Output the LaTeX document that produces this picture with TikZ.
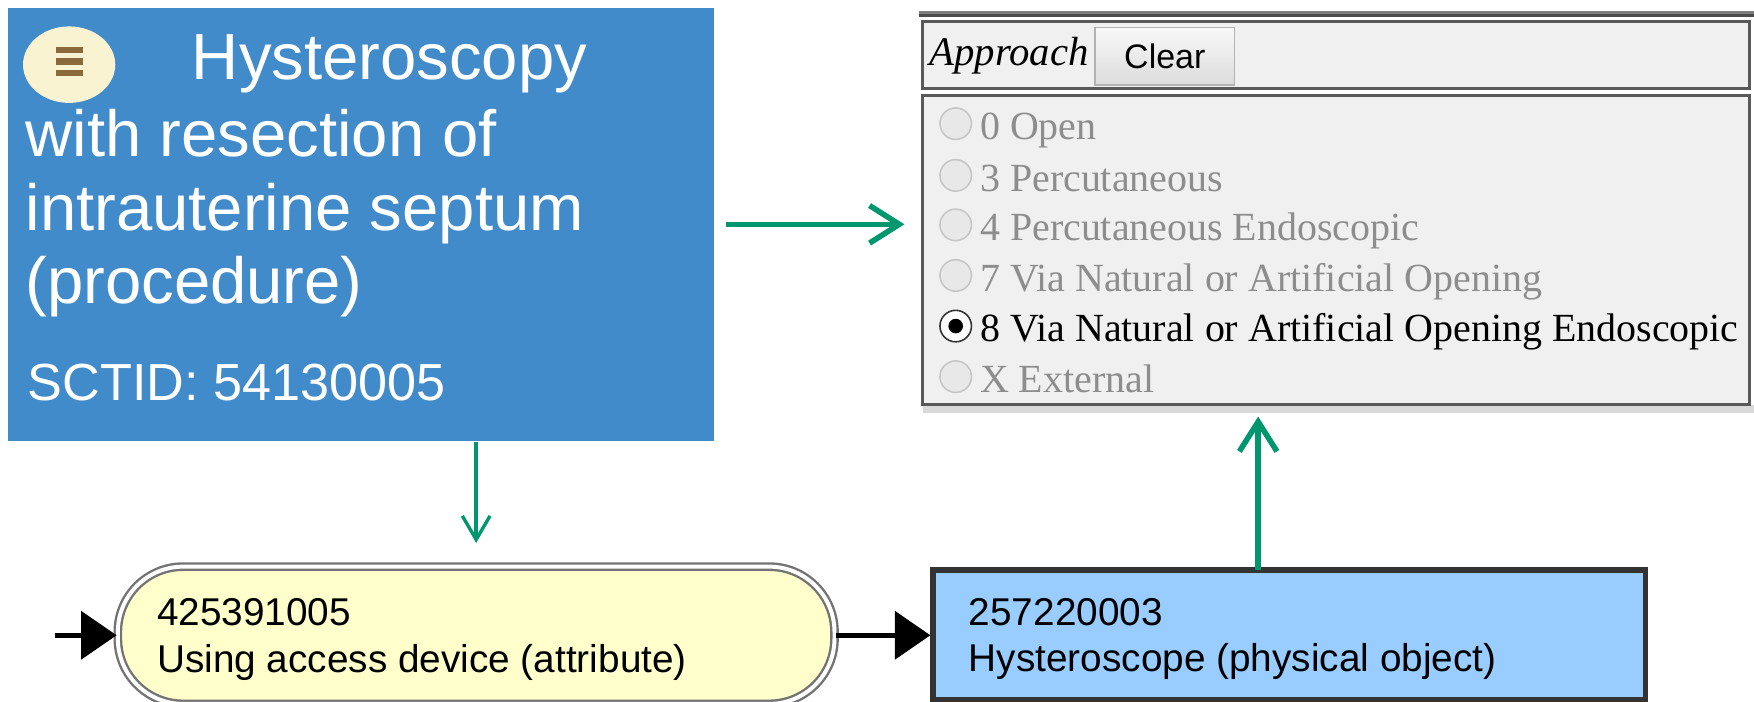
\documentclass[tikz,border=0pt]{standalone}
\usepackage{fontspec}
\setmainfont{Liberation Serif}
\setsansfont{Liberation Sans}
\usetikzlibrary{arrows.meta,shapes.geometric}

\definecolor{conceptblue}{RGB}{66,139,202}
\definecolor{menucream}{RGB}{250,243,210}
\definecolor{menubrown}{RGB}{138,106,58}
\definecolor{linkgreen}{RGB}{0,150,110}
\definecolor{formgray}{RGB}{240,240,240}
\definecolor{dimtext}{RGB}{141,141,141}
\definecolor{attryellow}{RGB}{255,255,204}
\definecolor{objblue}{RGB}{153,204,255}

\begin{document}
\begin{tikzpicture}[x=0.01cm, y=-0.01cm,
    conceptline/.style={anchor=base west, inner sep=0pt, text=white, font=\sffamily\fontsize{16.5}{19}\selectfont},
    choiceline/.style={anchor=base west, inner sep=0pt, text=dimtext, font=\fontsize{10.1}{12}\selectfont},
    radiobtn/.style={circle, draw=gray!45, fill=gray!18, minimum size=0.28cm, inner sep=0pt},
    cardline/.style={anchor=base west, inner sep=0pt, font=\sffamily\fontsize{9.8}{12}\selectfont},
    greenarrow/.style={draw=linkgreen, line width=1.4pt, -{Straight Barb[length=7.5pt,width=9.5pt]}},
    blackarrow/.style={draw=black, line width=1.4pt, -{Triangle[length=9pt,width=12pt]}}]
    \useasboundingbox (0,0) rectangle (1560,624);

    % concept card
    \node[fill=conceptblue, minimum width=6.28cm, minimum height=3.85cm, inner sep=0pt] (concept) at (321,199.5) {};
    \node[ellipse, fill=menucream, minimum width=0.82cm, minimum height=0.68cm, inner sep=0pt] (menu) at (61.5,57.5) {};
    \fill[menubrown] (50,41.5) rectangle (74,47.5);
    \fill[menubrown] (50,52) rectangle (74,58);
    \fill[menubrown] (50,62) rectangle (74,68);
    \node[conceptline] (line1) at (170,71) {Hysteroscopy};
    \node[conceptline] (line2) at (22,139) {with resection of};
    \node[conceptline] (line3) at (22,205) {intrauterine septum};
    \node[conceptline] (line4) at (22,270) {(procedure)};
    \node[conceptline, font=\sffamily\fontsize{13.2}{16}\selectfont] (sctid) at (24,356) {SCTID: 54130005};

    % approach panel
    \draw[black!50, line width=0.8pt] (817,11) -- (1560,11);
    \draw[black!70, line width=0.8pt] (817,14) -- (1560,14);
    \node[draw=black!65, line width=0.8pt, fill=formgray, minimum width=7.35cm, minimum height=0.6cm, inner sep=0pt] (header) at (1188.5,49) {};
    \node[anchor=base west, inner sep=0pt, font=\itshape\fontsize{10.3}{12}\selectfont] (approach) at (826,58) {Approach};
    \node[draw=gray!60, top color=gray!5, bottom color=gray!28, minimum width=1.24cm, minimum height=0.51cm, inner sep=0pt, font=\sffamily\fontsize{8.6}{10}\selectfont] (clear) at (1036,50) {Clear};
    \draw[black!15, line width=2pt] (821,364) -- (1560,364);
    \node[draw=black!65, line width=0.8pt, fill=formgray, minimum width=7.35cm, minimum height=2.75cm, inner sep=0pt] (choices) at (1188.5,222.5) {};

    \node[radiobtn] (radio0) at (850,110) {};
    \node[choiceline] (open) at (871,124) {0 Open};
    \node[radiobtn] (radio3) at (850,156) {};
    \node[choiceline] (perc) at (871,170) {3 Percutaneous};
    \node[radiobtn] (radio4) at (850,200) {};
    \node[choiceline] (percendo) at (871,214) {4 Percutaneous Endoscopic};
    \node[radiobtn] (radio7) at (850,245) {};
    \node[choiceline] (natural) at (871,259) {7 Via Natural or Artificial Opening};
    \node[radiobtn, draw=black!80, fill=white] (radio8) at (850,290) {};
    \fill (radio8.center) circle (0.065cm);
    \node[choiceline, text=black] (naturalendo) at (871,304) {8 Via Natural or Artificial Opening Endoscopic};
    \node[radiobtn] (radiox) at (850,335) {};
    \node[choiceline] (external) at (871,349) {X External};

    % attribute and value
    \node[draw=black!55, double=white, double distance=1pt, line width=0.6pt, fill=attryellow, rounded corners=0.58cm, minimum width=6.37cm, minimum height=1.22cm] (attr) at (423.5,565) {};
    \node[cardline] (attrid) at (139,556) {425391005};
    \node[cardline] (attrname) at (139,598) {Using access device (attribute)};
    \node[draw=black!80, line width=1.3pt, fill=objblue, minimum width=6.33cm, minimum height=1.15cm] (object) at (1146.5,564.5) {};
    \node[cardline] (objid) at (861,556) {257220003};
    \node[cardline] (objname) at (861,597) {Hysteroscope (physical object)};

    \coordinate (incoming) at (49,565);
    \draw[blackarrow] (incoming) -- (attr.west);
    \draw[blackarrow] (attr.east) -- (attr.east -| object.west);

    \draw[greenarrow, shorten <=0.1cm, shorten >=0.15cm] (concept.east) -- (concept.east -| choices.west);
    \draw[greenarrow, line width=0.85pt, -{Straight Barb[length=6pt,width=7pt]}, shorten >=0.2cm] (attr.north |- concept.south) -- (attr.north);
    \coordinate (scopelink) at (1119,507);
    \draw[greenarrow, shorten >=0.09cm] (scopelink) -- (scopelink |- choices.south);
\end{tikzpicture}
\end{document}
